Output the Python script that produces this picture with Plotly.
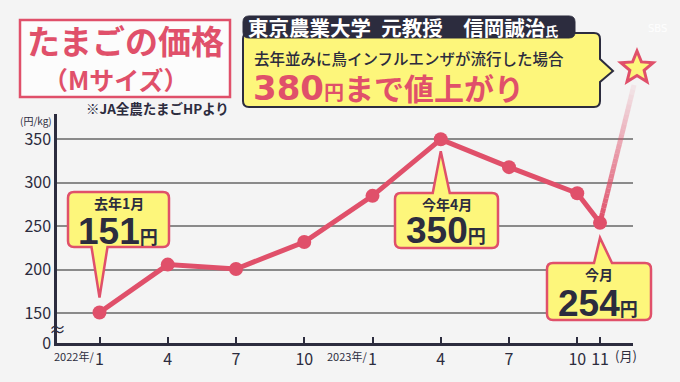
import plotly.graph_objects as go
import math

# ---------------- data ----------------
months = [0, 3, 6, 9, 12, 15, 18, 21, 22]          # months since 2022/1
prices = [151, 206, 201, 232, 285, 350, 318, 288, 254]  # 円/kg
tick_text = ['1', '4', '7', '10', '1', '4', '7', '10', '11']
year_months = [0, 12]
year_labels = ['2022年/', '2023年/']
y_ticks = [150, 200, 250, 300, 350]
y_zero_label = '0'
forecast_price = 380

# ---------------- styles ----------------
W, H = 680, 382
L, R, T, B = 57, 47, 114, 39
PW, PH = W - L - R, H - T - B
XR = [-1.868, 23.45]
YR = [115.9, 379.1]
RED = '#e0506a'
YEL = '#fdf67b'
DARK = '#2c2c3e'
BG = '#f4f4f4'
JP = 'Noto Sans CJK JP'


def dx(x):
    return L + (x - XR[0]) / (XR[1] - XR[0]) * PW


def dy(v):
    return T + (YR[1] - v) / (YR[1] - YR[0]) * PH


def px(xp):
    return (xp - L) / PW


def py(yp):
    return (H - B - yp) / PH


def P(x, y):
    return f"{px(x):.5f},{py(y):.5f}"


def rbox(x0, y0, x1, y1, r, ptr=None):
    s = f"M{P(x0 + r, y0)}"
    if ptr and ptr[0] == 'top':
        s += f" L{P(ptr[1], y0)} L{P(ptr[3], ptr[4])} L{P(ptr[2], y0)}"
    s += f" L{P(x1 - r, y0)} Q{P(x1, y0)} {P(x1, y0 + r)}"
    if ptr and ptr[0] == 'right':
        s += f" L{P(x1, ptr[1])} L{P(ptr[3], ptr[4])} L{P(x1, ptr[2])}"
    s += f" L{P(x1, y1 - r)} Q{P(x1, y1)} {P(x1 - r, y1)}"
    if ptr and ptr[0] == 'bottom':
        s += f" L{P(ptr[2], y1)} L{P(ptr[3], ptr[4])} L{P(ptr[1], y1)}"
    s += f" L{P(x0 + r, y1)} Q{P(x0, y1)} {P(x0, y1 - r)} L{P(x0, y0 + r)} Q{P(x0, y0)} {P(x0 + r, y0)} Z"
    return s


fig = go.Figure()
fig.add_trace(go.Scatter(
    x=months, y=prices, mode='lines+markers',
    line=dict(color=RED, width=5),
    marker=dict(size=14, color=RED),
    cliponaxis=False, hoverinfo='skip'))

shapes = []
ann = []

# title box
shapes.append(dict(type='rect', xref='paper', yref='paper',
                   x0=px(20), x1=px(230), y0=py(20), y1=py(97),
                   line=dict(color=RED, width=2.5), fillcolor='#fcfcfc', layer='above'))
ann.append(dict(text='たまごの価格', x=px(125), y=py(40), font=dict(family=JP, size=33, color=RED, weight='bold')))
ann.append(dict(text='（Mサイズ）', x=px(116), y=py(79), font=dict(family=JP, size=25, color=RED, weight='bold')))
ann.append(dict(text='※JA全農たまごHPより', x=px(231), y=py(108), xanchor='right',
                font=dict(family=JP, size=13.5, color=DARK, weight='bold')))
ann.append(dict(text='(円/kg)', x=px(36), y=py(121), font=dict(family=JP, size=10, color=DARK)))

# speaker box
shapes.append(dict(type='path', xref='paper', yref='paper',
                   path=rbox(243, 33, 600, 107, 6, ('right', 59, 82, 613, 71)),
                   line=dict(color=DARK, width=2), fillcolor=YEL, layer='above'))
shapes.append(dict(type='path', xref='paper', yref='paper',
                   path=rbox(243, 16, 575, 38, 6),
                   line=dict(color=DARK, width=1), fillcolor=DARK, layer='above'))
ann.append(dict(text="東京農業大学\u2002元教授\u3000信岡誠治<span style='font-size:13px'>氏</span>",
                x=px(246), y=py(27), xanchor='left',
                font=dict(family=JP, size=20.5, color='white', weight='bold')))
ann.append(dict(text='去年並みに鳥インフルエンザが流行した場合', x=px(252), y=py(58), xanchor='left',
                font=dict(family=JP, size=15.5, color=DARK, weight=500)))
ann.append(dict(text=f"<span style='font-family:DejaVu Sans;font-size:34px'>{forecast_price}</span>"
                     "<span style='font-size:20px'>円</span>まで値上がり",
                x=px(251), y=py(87), xanchor='left',
                font=dict(family=JP, size=30, color=RED, weight='bold')))

# fading line toward star
sx0, sy0 = dx(months[-1]), dy(prices[-1])
sx1, sy1 = 634, 85
N = 28
for i in range(N):
    t0, t1 = i / N, (i + 1) / N
    op = max(0.08, 1 - 0.95 * t0)
    shapes.append(dict(type='line', xref='paper', yref='paper',
                       x0=px(sx0 + (sx1 - sx0) * t0), y0=py(sy0 + (sy1 - sy0) * t0),
                       x1=px(sx0 + (sx1 - sx0) * t1), y1=py(sy0 + (sy1 - sy0) * t1),
                       line=dict(color=RED, width=5), opacity=op, layer='above'))

# star
cx, cy, ro, ri = 637, 68, 17, 7.5
pts = []
for k in range(10):
    a = -math.pi / 2 + k * math.pi / 5
    rr = ro if k % 2 == 0 else ri
    pts.append((cx + rr * math.cos(a), cy + rr * math.sin(a)))
star = 'M' + ' L'.join(P(x, y) for x, y in pts) + ' Z'
shapes.append(dict(type='path', xref='paper', yref='paper', path=star,
                   line=dict(color=RED, width=3), fillcolor=YEL, layer='above'))

# callouts
NUM = 'Liberation Sans, Arial, sans-serif'


def callout(box, ptr, top_text, num, ty1, ty2):
    x0, y0, x1, y1 = box
    shapes.append(dict(type='path', xref='paper', yref='paper',
                       path=rbox(x0, y0, x1, y1, 6, ptr),
                       line=dict(color=RED, width=2.5), fillcolor=YEL, layer='above'))
    cxm = (x0 + x1) / 2
    ann.append(dict(text=top_text, x=px(cxm), y=py(ty1),
                    font=dict(family=JP, size=14, color=DARK, weight='bold')))
    ann.append(dict(text=f"<span style='font-family:{NUM};font-size:37px'>{num}</span>"
                         "<span style='font-size:18px'>円</span>",
                    x=px(cxm - 1), y=py(ty2),
                    font=dict(family=JP, size=18, color=DARK, weight='bold')))


i0, i4, iN = 0, months.index(15), len(months) - 1
tx = dx(months[i0])
callout((68, 192, 169, 247), ('bottom', tx - 8, tx + 8, tx, dy(prices[i0]) - 15),
        '去年1月', prices[i0], 203, 231)
tx = dx(months[i4])
callout((395, 193, 498, 248), ('top', tx - 8, tx + 9, tx, dy(prices[i4]) + 12),
        '今年4月', prices[i4], 204, 230)
tx = dx(months[iN])
callout((547, 263, 651, 320), ('top', tx - 6, tx + 12, tx, dy(prices[iN]) + 15),
        '今月', prices[iN], 274, 303)

# x-axis extras
for m, lab in zip(year_months, year_labels):
    ann.append(dict(text=lab, x=m, xref='x', y=py(356), yref='paper', xanchor='right', xshift=-4,
                    font=dict(family=JP, size=11, color=DARK)))
ann.append(dict(text='(月)', x=px(626), y=py(355), font=dict(family=JP, size=13, color=DARK)))
ann.append(dict(text='≈', x=px(57), y=py(328), font=dict(family=JP, size=17, color=DARK)))
ann.append(dict(text='SBS', x=px(657), y=py(28), font=dict(family='DejaVu Sans', size=10, color='rgba(255,255,255,0.9)')))

for a in ann:
    a.setdefault('xref', 'paper')
    a.setdefault('yref', 'paper')
    a.setdefault('showarrow', False)
    a.setdefault('xanchor', 'center')
    a.setdefault('yanchor', 'middle')

fig.update_layout(
    width=W, height=H, margin=dict(l=L, r=R, t=T, b=B),
    paper_bgcolor=BG, plot_bgcolor=BG, showlegend=False,
    shapes=shapes, annotations=ann,
    xaxis=dict(range=XR, tickmode='array', tickvals=months, ticktext=tick_text,
               showgrid=False, zeroline=False, showline=True, linecolor=DARK, linewidth=2.5,
               ticks='inside', ticklen=6, tickwidth=1.5, tickcolor=DARK,
               tickfont=dict(family=JP, size=16, color=DARK), fixedrange=True),
    yaxis=dict(range=YR, tickmode='array', tickvals=[YR[0]] + y_ticks,
               ticktext=[y_zero_label] + [str(v) for v in y_ticks],
               showgrid=True, gridcolor='#8a8a8a', gridwidth=1.5, zeroline=False,
               showline=True, linecolor=DARK, linewidth=2.5, ticks='',
               tickfont=dict(family=JP, size=16, color=DARK), fixedrange=True),
)

fig.write_html('out.html', config={'displayModeBar': False},
               post_script="document.body.style.margin='0';document.body.style.background='%s';" % BG)
